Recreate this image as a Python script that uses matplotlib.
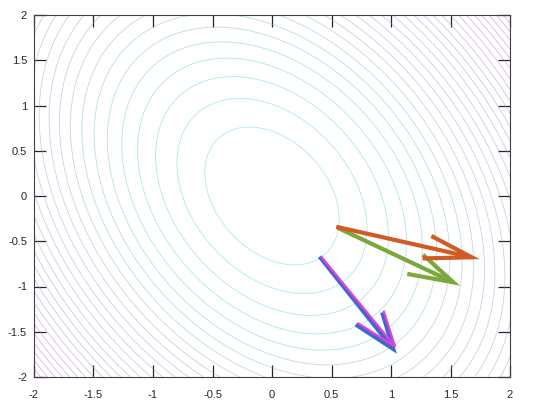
import numpy as np
import matplotlib.pyplot as plt
from matplotlib.colors import LinearSegmentedColormap

#--------------------------------
# data
#--------------------------------
# quadratic bowl f = a*x^2 + b*x*y + c*y^2
quad_a = 1.0
quad_b = 0.5
quad_c = 0.55
n_levels = 30

# arrows: start point and tip (data units)
arrow_names = ["green", "orange", "blue", "magenta"]
arrow_x0 = [0.55, 0.54, 0.40, 0.41]
arrow_y0 = [-0.35, -0.34, -0.67, -0.665]
arrow_x1 = [1.524, 1.678, 1.019, 1.035]
arrow_y1 = [-0.954, -0.677, -1.69, -1.665]
arrow_colors = ["#7aa83a", "#d35a22", "#3a6cc4", "#e43ee6"]
arrow_widths = [3.0, 3.0, 3.0, 1.6]

ticks = [-2, -1.5, -1, -0.5, 0, 0.5, 1, 1.5, 2]
tick_labels = ["-2", "-1.5", "-1", "-0.5", "0", "0.5", "1", "1.5", "2"]

#--------------------------------
# figure
#--------------------------------
plt.rcParams['font.family'] = ['Liberation Sans', 'DejaVu Sans']
fig = plt.figure(figsize=(5.4, 4.16), dpi=100)
ax = fig.add_axes([34/540, 1-377/416, 476/540, 362/416])

# washed out version of the 'cool' colormap
pale_cool = LinearSegmentedColormap.from_list(
    'pale_cool', ['#5ed8d0', '#8fa8c8', '#a68cc4', '#c060c8'])

xg = np.linspace(-2, 2, 301)
X, Y = np.meshgrid(xg, xg)
Z = quad_a*X**2 + quad_b*X*Y + quad_c*Y**2
levels = np.linspace(0, Z.max(), n_levels)[1:-1]
ax.contour(X, Y, Z, levels=levels, cmap=pale_cool, linewidths=0.6, alpha=0.5)

# quiver-like arrows with open heads (alpha = beta = 0.33)
al, be = 0.33, 0.33
for x0, y0, x1, y1, c, w in zip(arrow_x0, arrow_y0, arrow_x1, arrow_y1,
                                arrow_colors, arrow_widths):
    u = x1 - x0
    v = y1 - y0
    ax.plot([x0, x1], [y0, y1], color=c, lw=w, solid_capstyle='butt', zorder=3)
    hx = [x1 - al*(u + be*v), x1, x1 - al*(u - be*v)]
    hy = [y1 - al*(v - be*u), y1, y1 - al*(v + be*u)]
    ax.plot(hx, hy, color=c, lw=w, solid_capstyle='butt',
            solid_joinstyle='miter', zorder=3)

ax.set_xlim(-2, 2)
ax.set_ylim(-2, 2)
ax.set_xticks(ticks)
ax.set_xticklabels(tick_labels)
ax.set_yticks(ticks)
ax.set_yticklabels(tick_labels)
ax.tick_params(direction='in', length=8.5, width=0.9, top=True, right=True,
               labelsize=8, colors='#262626')
ax.tick_params(axis='x', pad=9)
ax.tick_params(axis='y', pad=5)
for sp in ax.spines.values():
    sp.set_color('#404040')
    sp.set_linewidth(0.8)

plt.savefig('out.png', dpi=100)
